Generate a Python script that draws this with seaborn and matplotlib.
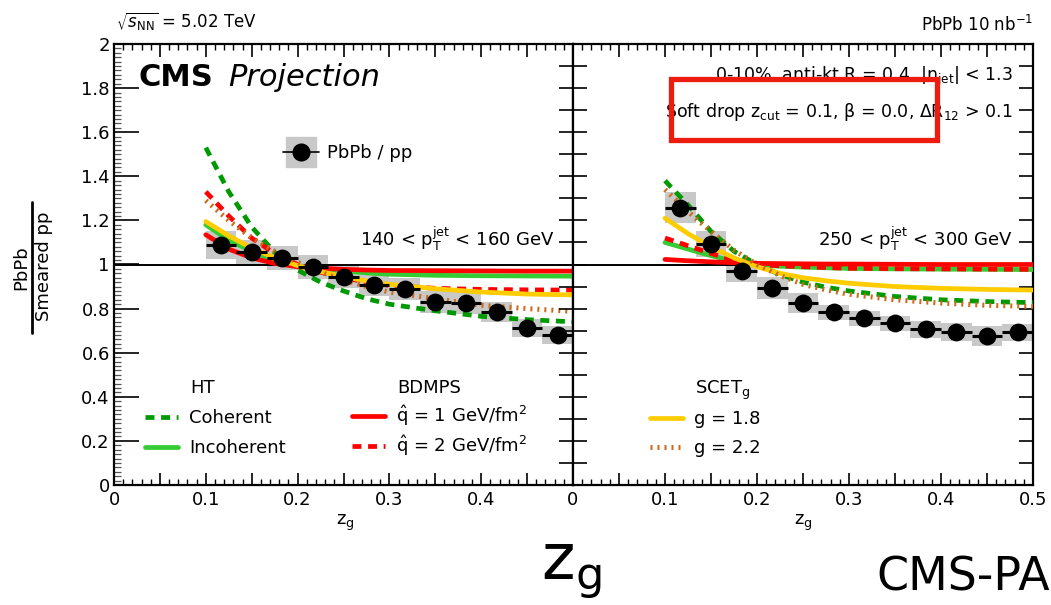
import numpy as np
import pandas as pd
import seaborn as sns
import matplotlib
matplotlib.use("Agg")
import matplotlib.pyplot as plt
from matplotlib.lines import Line2D
from matplotlib.legend_handler import HandlerTuple
from matplotlib.patches import Rectangle
from matplotlib.ticker import MultipleLocator, FuncFormatter

# ---------------- data ----------------
zg_centers = [0.1167, 0.15, 0.1833, 0.2167, 0.25, 0.2833, 0.3167, 0.35, 0.3833, 0.4167, 0.45, 0.4833]
bin_width = 0.0333

ratio_140 = [1.088, 1.058, 1.028, 0.987, 0.945, 0.907, 0.889, 0.831, 0.827, 0.786, 0.711, 0.680]
sys_140 = [0.065, 0.055, 0.055, 0.055, 0.05, 0.05, 0.05, 0.05, 0.05, 0.045, 0.04, 0.04]
stat_140 = [0.008, 0.008, 0.008, 0.008, 0.009, 0.01, 0.01, 0.012, 0.012, 0.014, 0.015, 0.016]

ratio_250 = [1.258, 1.093, 0.972, 0.895, 0.824, 0.783, 0.756, 0.733, 0.706, 0.695, 0.677, 0.692]
sys_250 = [0.07, 0.06, 0.05, 0.05, 0.045, 0.035, 0.035, 0.035, 0.04, 0.04, 0.045, 0.04]
stat_250 = [0.01, 0.01, 0.012, 0.015, 0.018, 0.025, 0.025, 0.027, 0.028, 0.03, 0.03, 0.032]

model_x = [0.1, 0.125, 0.15, 0.175, 0.2, 0.225, 0.25, 0.275, 0.3, 0.35, 0.4, 0.45, 0.5]

# 140 < pT < 160 GeV
ht_coh_140   = [1.53, 1.33, 1.17, 1.055, 0.975, 0.92, 0.88, 0.845, 0.82, 0.79, 0.765, 0.75, 0.74]
ht_inc_140   = [1.18, 1.11, 1.06, 1.02, 0.995, 0.98, 0.97, 0.962, 0.956, 0.951, 0.949, 0.948, 0.947]
bdmps1_140   = [1.135, 1.07, 1.03, 1.005, 0.99, 0.983, 0.978, 0.975, 0.973, 0.972, 0.971, 0.97, 0.97]
bdmps2_140   = [1.33, 1.22, 1.12, 1.05, 1.0, 0.965, 0.94, 0.92, 0.905, 0.892, 0.887, 0.885, 0.884]
scet18_140   = [1.195, 1.13, 1.075, 1.03, 0.995, 0.968, 0.945, 0.925, 0.91, 0.89, 0.875, 0.866, 0.862]
scet22_140   = [1.29, 1.2, 1.12, 1.06, 1.01, 0.965, 0.93, 0.9, 0.875, 0.845, 0.815, 0.8, 0.787]

# 250 < pT < 300 GeV
ht_coh_250   = [1.38, 1.27, 1.15, 1.06, 1.0, 0.955, 0.92, 0.897, 0.88, 0.855, 0.84, 0.832, 0.827]
ht_inc_250   = [1.10, 1.07, 1.04, 1.015, 0.998, 0.992, 0.988, 0.985, 0.982, 0.98, 0.979, 0.978, 0.977]
bdmps1_250   = [1.023, 1.017, 1.012, 1.008, 1.005, 1.004, 1.003, 1.002, 1.002, 1.001, 1.0, 1.0, 1.0]
bdmps2_250   = [1.12, 1.085, 1.05, 1.02, 1.0, 0.994, 0.99, 0.986, 0.983, 0.981, 0.98, 0.979, 0.978]
scet18_250   = [1.21, 1.14, 1.08, 1.03, 0.99, 0.96, 0.94, 0.926, 0.915, 0.9, 0.892, 0.887, 0.884]
scet22_250   = [1.34, 1.24, 1.15, 1.065, 1.0, 0.95, 0.91, 0.885, 0.865, 0.84, 0.825, 0.815, 0.81]

xtick_labels_left = ["0", "0.1", "0.2", "0.3", "0.4"]
xtick_labels_right = ["0", "0.1", "0.2", "0.3", "0.4", "0.5"]

# ---------------- style ----------------
sns.set_theme(style="ticks")
plt.rcParams["font.family"] = ["DejaVu Sans"]
plt.rcParams["mathtext.fontset"] = "dejavusans"
plt.rcParams["axes.linewidth"] = 1.6
for k in ["text.color", "axes.labelcolor", "xtick.color", "ytick.color", "axes.edgecolor"]:
    plt.rcParams[k] = "black"

W, H = 1051, 605
fig = plt.figure(figsize=(W / 100, H / 100), dpi=100)
fig.patch.set_facecolor("white")

def fx(px):
    return px / W

def fy(py):
    return 1 - py / H

ax1 = fig.add_axes([fx(114), fy(485), (573 - 114) / W, (485 - 44) / H])
ax2 = fig.add_axes([fx(573), fy(485), (1033 - 573) / W, (485 - 44) / H])

C_COH = "#009a00"
C_INC = "#33cc33"
C_RED = "#ff0000"
C_YEL = "#ffcc00"
C_ORA = "#cc6a1a"
GRAY = "#c8c8c8"

LW = 3.4
LW_DOT = 3.6
dash_style = (0, (1.9, 1.4))
dot_style = (0, (0.4, 1.0))

def draw_models(ax, coh, inc, b1, b2, s18, s22):
    specs = [
        (coh, C_COH, dash_style, LW),
        (inc, C_INC, "-", LW),
        (b2, C_RED, dash_style, LW),
        (b1, C_RED, "-", LW),
        (s18, C_YEL, "-", LW),
        (s22, C_ORA, dot_style, LW_DOT),
    ]
    for i, (yv, col, ls, lw) in enumerate(specs):
        df = pd.DataFrame({"zg": model_x, "r": yv})
        sns.lineplot(data=df, x="zg", y="r", ax=ax, color=col, linestyle=ls,
                     lw=lw, zorder=3 + i * 0.1, legend=False)

def draw_data(ax, y, sysv, stat):
    ax.bar(zg_centers, height=2 * np.array(sysv), bottom=np.array(y) - np.array(sysv),
           width=bin_width, color=GRAY, zorder=1, linewidth=0)
    ax.errorbar(zg_centers, y, xerr=bin_width / 2, yerr=stat, fmt="none",
                ecolor="black", elinewidth=2.2, capsize=0, zorder=5)
    df = pd.DataFrame({"zg": zg_centers, "r": y})
    sns.scatterplot(data=df, x="zg", y="r", ax=ax, color="black", s=165,
                    edgecolor="black", linewidth=0, zorder=6, legend=False)

draw_data(ax1, ratio_140, sys_140, stat_140)
draw_models(ax1, ht_coh_140, ht_inc_140, bdmps1_140, bdmps2_140, scet18_140, scet22_140)
draw_data(ax2, ratio_250, sys_250, stat_250)
draw_models(ax2, ht_coh_250, ht_inc_250, bdmps1_250, bdmps2_250, scet18_250, scet22_250)

for ax in (ax1, ax2):
    ax.axhline(1.0, color="black", lw=1.4, zorder=2)
    ax.set_xlim(0, 0.5)
    ax.set_ylim(0, 2)
    ax.set_xlabel("")
    ax.set_ylabel("")
    for s in ax.spines.values():
        s.set_visible(True)
        s.set_color("black")
        s.set_linewidth(1.6)
    ax.xaxis.set_major_locator(MultipleLocator(0.05))
    ax.xaxis.set_minor_locator(MultipleLocator(0.01))
    ax.tick_params(axis="x", which="major", direction="in", top=True, bottom=True,
                   length=9, width=1.2, labelsize=13, pad=4, colors="black")
    ax.tick_params(axis="x", which="minor", direction="in", top=True, bottom=True,
                   length=4.5, width=1.0, colors="black")
    ax.set_facecolor("white")

def make_fmt(labels):
    def f(v, pos):
        for s in labels:
            if abs(v - float(s)) < 1e-6:
                return s
        return ""
    return f

ax1.xaxis.set_major_formatter(FuncFormatter(make_fmt(xtick_labels_left)))
ax2.xaxis.set_major_formatter(FuncFormatter(make_fmt(xtick_labels_right)))

# y axes
ax1.yaxis.set_major_locator(MultipleLocator(0.2))
ax1.yaxis.set_minor_locator(MultipleLocator(0.02))
ax1.yaxis.set_major_formatter(FuncFormatter(
    lambda v, p: "0" if abs(v) < 1e-6 else ("1" if abs(v - 1) < 1e-6 else ("2" if abs(v - 2) < 1e-6 else f"{v:.1f}"))))
ax1.tick_params(axis="y", which="major", direction="in", left=True, right=False,
                length=18, width=1.2, labelsize=13, pad=3, colors="black")
ax1.tick_params(axis="y", which="minor", direction="in", left=True, right=False,
                length=5, width=0.9, color="#555555")
ax1r = ax1.twinx()
ax1r.set_ylim(0, 2)
ax1r.yaxis.set_major_locator(MultipleLocator(0.1))
ax1r.tick_params(axis="y", which="major", direction="in", length=10, width=1.2,
                 labelright=False, right=True, colors="black")
ax1r.tick_params(axis="y", which="minor", right=False)
for s in ax1r.spines.values():
    s.set_visible(False)

ax2.yaxis.set_major_locator(MultipleLocator(0.1))
ax2.tick_params(axis="y", which="major", direction="in", left=True, right=True,
                length=10, width=1.2, labelleft=False, colors="black")
ax2.tick_params(axis="y", which="minor", left=False, right=False)

# ---------------- texts ----------------
fig.text(fx(116), fy(22), r"$\sqrt{s_{\mathrm{NN}}}$ = 5.02 TeV", fontsize=12, va="center", ha="left")
fig.text(fx(1033), fy(25), r"PbPb 10 nb$^{\mathrm{-1}}$", fontsize=12, va="center", ha="right")
fig.text(fx(138), fy(77), "CMS", fontsize=22, fontweight="bold", va="center", ha="left")
fig.text(fx(228), fy(77), "Projection", fontsize=22, fontstyle="italic", va="center", ha="left")

fig.text(fx(555), fy(239), r"140 < p$_{\mathrm{T}}^{\mathrm{jet}}$ < 160 GeV",
         fontsize=13, ha="right", va="center")
fig.text(fx(1013), fy(239), r"250 < p$_{\mathrm{T}}^{\mathrm{jet}}$ < 300 GeV",
         fontsize=13, ha="right", va="center")

fig.text(fx(1013), fy(77), r"0-10%, anti-kt R = 0.4, |η$_{\mathrm{jet}}$| < 1.3", fontsize=12.5,
         ha="right", va="center")
fig.text(fx(1013), fy(112), r"Soft drop z$_{\mathrm{cut}}$ = 0.1, β = 0.0, ΔR$_{\mathrm{12}}$ > 0.1",
         fontsize=12.5, ha="right", va="center")

# y label as a fraction
fig.text(fx(21), fy(268), "PbPb", fontsize=13, rotation=90, ha="center", va="center")
fig.text(fx(44), fy(266), "Smeared pp", fontsize=13, rotation=90, ha="center", va="center")
fig.add_artist(Line2D([fx(32), fx(32)], [fy(202), fy(333)], color="black", lw=2.0,
                      transform=fig.transFigure))

# x labels
fig.text(fx(345), fy(523), r"z$_{\mathrm{g}}$", fontsize=13, ha="center", va="center")
fig.text(fx(803), fy(523), r"z$_{\mathrm{g}}$", fontsize=13, ha="center", va="center")

# big footer texts
fig.text(fx(541), fy(570), r"z$_{\mathrm{g}}$", fontsize=46, ha="left", va="center")
fig.text(fx(1050), fy(578), "CMS-PA", fontsize=33, ha="right", va="center")

# red annotation box
fig.add_artist(Rectangle((fx(671), fy(140)), (937 - 671) / W, (140 - 79) / H,
                         transform=fig.transFigure, fill=False, edgecolor="#ee1c0e",
                         lw=3.8, zorder=20))

# ---------------- legends ----------------
h_data = (Line2D([], [], marker="s", color=GRAY, markersize=22, linestyle="none"),
          Line2D([], [], marker="o", color="black", markersize=12, lw=1.2))
fig.legend(handles=[h_data], labels=["PbPb / pp"], loc="center left",
           bbox_to_anchor=(fx(283), fy(153)), bbox_transform=fig.transFigure,
           frameon=False, fontsize=13, handlelength=2.0, handletextpad=0.45,
           borderpad=0, borderaxespad=0,
           handler_map={tuple: HandlerTuple(ndivide=1)})

def leg_row(x, yc, handle, label, hl=1.85):
    if handle is None:
        fig.text(fx(x + 45), fy(yc), label, fontsize=13, ha="left", va="center")
        return
    fig.legend(handles=[handle], labels=[label], loc="center left",
               bbox_to_anchor=(fx(x), fy(yc)), bbox_transform=fig.transFigure,
               frameon=False, fontsize=13, handlelength=hl, handletextpad=0.6,
               borderpad=0, borderaxespad=0)

leg_row(145, 388, None, "HT")
leg_row(145, 418, Line2D([], [], color=C_COH, lw=LW, linestyle=dash_style), "Coherent")
leg_row(145, 448, Line2D([], [], color=C_INC, lw=LW), "Incoherent")

leg_row(352, 388, None, "BDMPS")
leg_row(352, 416, Line2D([], [], color=C_RED, lw=LW), r"$\hat{\mathrm{q}}$ = 1 GeV/fm$^{2}$")
leg_row(352, 446, Line2D([], [], color=C_RED, lw=LW, linestyle=dash_style), r"$\hat{\mathrm{q}}$ = 2 GeV/fm$^{2}$")

leg_row(650, 390, None, r"SCET$_{\mathrm{g}}$")
leg_row(650, 419, Line2D([], [], color=C_YEL, lw=LW), "g = 1.8")
leg_row(650, 448, Line2D([], [], color=C_ORA, lw=LW_DOT, linestyle=dot_style), "g = 2.2")

fig.savefig("out.png", dpi=100, facecolor="white")
